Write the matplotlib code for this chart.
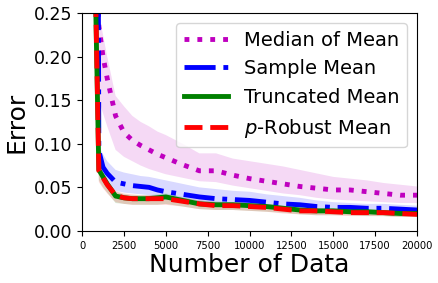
import numpy as np
import matplotlib
matplotlib.use('Agg')
import matplotlib.pyplot as plt

# number of data
n_data = [750, 1000, 1250, 1500, 2000, 2500, 3000, 3500, 4000, 4500, 5000,
          6000, 7000, 8000, 9000, 10000, 11000, 12000, 13000, 14000, 15000,
          16000, 17000, 18000, 19000, 20000]

# Median of Mean
mom = [0.36, 0.235, 0.20, 0.175, 0.132, 0.113, 0.104, 0.098, 0.093, 0.088, 0.084,
       0.076, 0.069, 0.069, 0.064, 0.060, 0.057, 0.054, 0.051, 0.049, 0.047,
       0.047, 0.045, 0.043, 0.041, 0.041]
mom_hi = [0.45, 0.25, 0.225, 0.20, 0.155, 0.143, 0.132, 0.125, 0.120, 0.114, 0.110,
          0.100, 0.089, 0.089, 0.083, 0.080, 0.077, 0.074, 0.070, 0.066, 0.062,
          0.060, 0.058, 0.055, 0.053, 0.051]
mom_lo = [0.30, 0.15, 0.135, 0.12, 0.093, 0.085, 0.080, 0.075, 0.071, 0.068, 0.065,
          0.061, 0.057, 0.056, 0.052, 0.049, 0.046, 0.043, 0.041, 0.038, 0.036,
          0.035, 0.034, 0.033, 0.032, 0.032]

# Sample Mean
smean = [1.6, 0.092, 0.073, 0.066, 0.056, 0.054, 0.052, 0.051, 0.050, 0.047, 0.045,
         0.042, 0.039, 0.037, 0.036, 0.035, 0.033, 0.031, 0.030, 0.028, 0.027,
         0.027, 0.026, 0.026, 0.025, 0.024]
smean_hi = [2.0, 0.097, 0.088, 0.080, 0.070, 0.067, 0.065, 0.063, 0.062, 0.060, 0.058,
            0.054, 0.050, 0.048, 0.046, 0.045, 0.042, 0.040, 0.038, 0.035, 0.033,
            0.032, 0.031, 0.031, 0.030, 0.029]
smean_lo = [1.2, 0.080, 0.062, 0.055, 0.046, 0.044, 0.043, 0.042, 0.041, 0.038, 0.036,
            0.033, 0.031, 0.029, 0.028, 0.027, 0.026, 0.025, 0.024, 0.022, 0.022,
            0.021, 0.021, 0.020, 0.020, 0.019]

# Truncated Mean
tmean = [0.32, 0.070, 0.062, 0.054, 0.040, 0.038, 0.037, 0.037, 0.037, 0.038, 0.039,
         0.035, 0.031, 0.030, 0.030, 0.029, 0.028, 0.026, 0.024, 0.023, 0.023,
         0.022, 0.022, 0.021, 0.020, 0.020]
tmean_hi = [0.36, 0.076, 0.067, 0.058, 0.045, 0.042, 0.041, 0.041, 0.041, 0.042, 0.043,
            0.039, 0.035, 0.034, 0.033, 0.032, 0.031, 0.029, 0.027, 0.026, 0.026,
            0.025, 0.025, 0.024, 0.023, 0.023]
tmean_lo = [0.28, 0.058, 0.050, 0.044, 0.032, 0.031, 0.030, 0.030, 0.030, 0.030, 0.031,
            0.028, 0.025, 0.024, 0.024, 0.023, 0.022, 0.021, 0.019, 0.018, 0.018,
            0.018, 0.017, 0.017, 0.016, 0.016]

# p-Robust Mean
pmean = [0.33, 0.069, 0.061, 0.053, 0.041, 0.038, 0.037, 0.037, 0.037, 0.037, 0.037,
         0.034, 0.031, 0.029, 0.029, 0.028, 0.027, 0.025, 0.023, 0.023, 0.022,
         0.021, 0.021, 0.021, 0.020, 0.019]
pmean_hi = [0.37, 0.075, 0.066, 0.058, 0.046, 0.043, 0.042, 0.041, 0.041, 0.041, 0.041,
            0.038, 0.035, 0.033, 0.033, 0.032, 0.030, 0.028, 0.026, 0.026, 0.025,
            0.024, 0.024, 0.024, 0.023, 0.022]
pmean_lo = [0.29, 0.056, 0.049, 0.043, 0.033, 0.031, 0.030, 0.030, 0.030, 0.030, 0.030,
            0.028, 0.025, 0.024, 0.024, 0.023, 0.022, 0.020, 0.019, 0.018, 0.018,
            0.017, 0.017, 0.017, 0.016, 0.016]

fig = plt.figure(figsize=(4.39, 2.83), dpi=100)
ax = fig.add_axes([0.187, 0.184, 0.763, 0.770])

ax.fill_between(n_data, mom_lo, mom_hi, color='m', alpha=0.15, linewidth=0)
ax.fill_between(n_data, smean_lo, smean_hi, color='b', alpha=0.15, linewidth=0)
ax.fill_between(n_data, tmean_lo, tmean_hi, color='g', alpha=0.15, linewidth=0)
ax.fill_between(n_data, pmean_lo, pmean_hi, color='r', alpha=0.15, linewidth=0)

ax.plot(n_data, mom, 'm:', linewidth=3.5, label='Median of Mean')
ax.plot(n_data, smean, 'b-.', linewidth=3.5, label='Sample Mean')
ax.plot(n_data, tmean, 'g-', linewidth=3.5, label='Truncated Mean')
ax.plot(n_data, pmean, 'r--', linewidth=3.5, label='$p$-Robust Mean')

ax.set_xlim(0, 20000)
ax.set_ylim(0, 0.25)
ax.set_yticks([0.0, 0.05, 0.10, 0.15, 0.20, 0.25])
ax.set_yticklabels(['0.00', '0.05', '0.10', '0.15', '0.20', '0.25'])
ax.tick_params(axis='y', labelsize=12.5)
ax.tick_params(axis='x', labelsize=7.2)

ax.set_xlabel('Number of Data', fontsize=18, labelpad=2)
ax.set_ylabel('Error', fontsize=18, labelpad=4)
ax.legend(fontsize=14, handlelength=2.3, labelspacing=0.5, loc='upper right')

fig.savefig('out.png', dpi=100)
